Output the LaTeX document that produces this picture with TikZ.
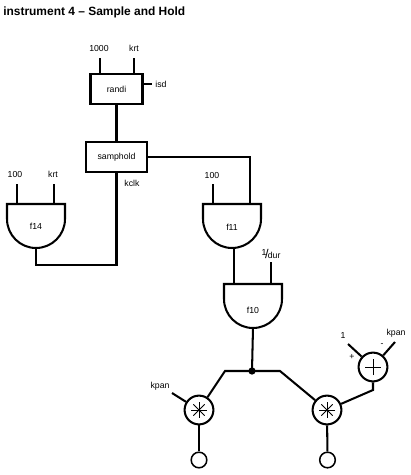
\documentclass[tikz,border=0pt]{standalone}
\usepackage{fontspec}
\setmainfont{Liberation Sans}
\usetikzlibrary{calc}
\tikzset{
 wire/.style={line width=1.45pt},
 lab/.style={font=\fontsize{6.2}{7}\selectfont,inner sep=0pt},
 unitbox/.style={draw,line width=1.45pt,inner sep=0pt,font=\fontsize{6.2}{7}\selectfont},
 opnode/.style={draw,circle,line width=1.45pt,minimum size=.72cm,inner sep=0pt},
 outnode/.style={draw,circle,line width=1.1pt,minimum size=.39cm,inner sep=0pt},
}
\begin{document}
\begin{tikzpicture}[x=.025cm,y=-.025cm]
\useasboundingbox (0,0) rectangle (410,475);
\node[anchor=west,inner sep=0pt,font=\fontsize{8.5}{10}\selectfont\bfseries] (title) at (3,12) {instrument 4 – Sample and Hold};
% unit generator boxes
\node[unitbox,minimum width=1.3cm,minimum height=.75cm] (randi) at (116.5,89) {randi};
\node[unitbox,minimum width=1.52cm,minimum height=.75cm] (samphold) at (116.5,157) {samphold};
\coordinate (randi-a) at (100,74);
\coordinate (randi-b) at (134,74);
\coordinate (randi-c) at (143,84);
\coordinate (randi-d) at (152,84);
\node[lab] (l1000) at (99,48) {1000};
\node[lab] (lkrt) at (134,48) {krt};
\node[lab] (lisd) at (161,84) {isd};
\node[lab] (lkclk) at (132,183) {kclk};
\draw[wire] (randi-a)--++(0,-16);
\draw[wire] (randi-b)--++(0,-16);
\draw[wire] (randi-c)--(randi-d);
\draw[wire] (randi)--(samphold);
% table lookups, flat on top and round below
\foreach \nm/\x/\y/\ly in {f14/36/204/226,f11/232/204/227,f10/253/284/310}{
 \draw[wire] (\x-29,\y)--(\x+29,\y)--(\x+29,\y+15) arc (0:180:29)--cycle;
 \node[lab] (\nm) at (\x,\ly) {\nm};
 \coordinate (\nm-a) at (\x-19,\y);
 \coordinate (\nm-b) at (\x+18,\y);
 \coordinate (\nm-out) at (\x,\y+44);
}
\node[lab] (l100a) at (15,174) {100};
\node[lab] (lkrtb) at (53,174) {krt};
\node[lab] (l100b) at (212,175) {100};
\node[lab,anchor=base] (ldur) at (271,258) {\raisebox{1.5pt}{1}\kern-1pt{\fontsize{9}{9}\selectfont/}\kern-.5pt dur};
\draw[wire] (f14-a)--++(0,-20);
\draw[wire] (f14-b)--++(0,-20);
\draw[wire] (f11-a)--++(0,-20);
\draw[wire] (f10-b)--++(0,-22);
\draw[wire] (samphold)--(116.5,265)-|(f14-out);
\draw[wire] (samphold.east)-|(f11-b);
\draw[wire] (234,248)--(f10-a);
% mix section
\node[opnode] (mulL) at (199,410) {};
\node[opnode] (mulR) at (327,410) {};
\node[opnode] (add) at (373,367) {};
\foreach \nm in {mulL,mulR}{
 \foreach \a in {0,45,90,135}{
  \draw[line width=.6pt] ($(\nm)+(\a:.2cm)$)--($(\nm)+(\a+180:.2cm)$);
 }
}
\draw[line width=.6pt] ($(add)+(-.2cm,0)$)--($(add)+(.2cm,0)$);
\draw[line width=.6pt] ($(add)+(0,-.2cm)$)--($(add)+(0,.2cm)$);
\node[outnode] (outL) at (199,460) {};
\node[outnode] (outR) at (327.5,460) {};
\fill (252,371) circle (2.6pt) coordinate (junc);
\coordinate (bendL) at (225,371);
\coordinate (bendR) at (280,371);
\coordinate (addbend) at (373,390);
\coordinate (kpanL) at (172,393);
\coordinate (oneIn) at (348,344);
\coordinate (kpanR) at (395,342);
\draw[wire] (f10-out)--(junc);
\draw[wire] (mulL)--(bendL)--(bendR)--(mulR);
\draw[wire] (kpanL)--(mulL);
\draw[wire] (add)--(addbend)--(mulR);
\draw[wire] (oneIn)--(add);
\draw[wire] (kpanR)--(add);
\draw[wire] (mulL)--(outL);
\draw[wire] (mulR)--(outR);
\node[lab] (lkpanL) at (160,386) {kpan};
\node[lab] (lone) at (343,335) {1};
\node[lab] (lkpanR) at (396,333) {kpan};
\node[lab] (lplus) at (352,357) {+};
\node[lab] (lminus) at (382,345) {-};
\end{tikzpicture}
\end{document}
